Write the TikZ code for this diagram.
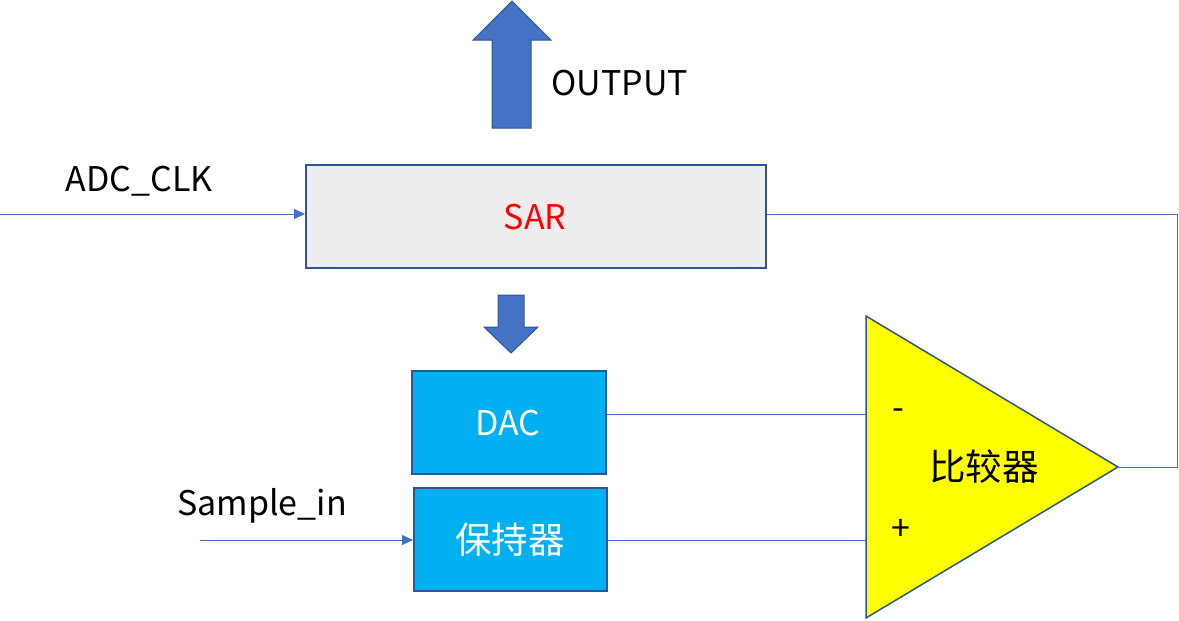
\documentclass[tikz,border=0pt]{standalone}
\usepackage{fontspec}
\setmainfont{Noto Sans CJK SC}
\usetikzlibrary{arrows.meta}
\definecolor{bord}{HTML}{2F5597}
\definecolor{wire}{HTML}{4472C4}
\definecolor{sarfill}{HTML}{EDEDED}
\definecolor{dacfill}{HTML}{00B0F0}
\definecolor{yel}{HTML}{FFFF00}
\tikzset{
  blk/.style={draw=bord, line width=1.5pt, inner sep=0pt, anchor=north west},
  wireln/.style={draw=wire, line width=0.9pt},
  wirearr/.style={wireln, -{Triangle[length=11pt,width=10pt]}},
  fatarrow/.style={fill=wire, draw=bord, line width=1pt},
  lbl/.style={font=\fontsize{34}{40}\selectfont, inner sep=0pt},
  cjk/.style={font=\fontsize{36.5}{42}\selectfont, inner sep=0pt},
}
\begin{document}
\begin{tikzpicture}[x=1pt,y=-1pt]
\useasboundingbox (0,0) rectangle (1179,621);
% boxes
\node[blk, fill=sarfill, minimum width=460pt, minimum height=103pt] (sar) at (305,164) {};
\node[lbl, text=red] (sart) at (535,217) {SAR};
\node[blk, fill=dacfill, minimum width=194pt, minimum height=103pt] (dac) at (411,370) {};
\node[lbl, text=white] (dact) at (508,423) {DAC};
\node[blk, fill=dacfill, minimum width=193pt, minimum height=103pt] (hold) at (413,487) {};
\node[cjk, text=white] (holdt) at (510,540) {保持器};
% comparator
\coordinate (ctop) at (866,316);
\coordinate (cbot) at (866,618);
\coordinate (ctip) at (1118,467);
\filldraw[fill=yel, draw=bord, line width=1.5pt] (ctop) -- (ctip) -- (cbot) -- cycle;
\node[cjk] (cmpt) at (984,467) {比较器};
\node[lbl] (minus) at (898,414) {-};
\node[lbl] (plus) at (901,530) {+};
\coordinate (inm) at (866,414);
\coordinate (inp) at (866,540);
\coordinate (fbr) at (1177,467);
\coordinate (fbt) at (1177,214);
% labels
\node[lbl] (out) at (620,83) {OUTPUT};
\node[lbl] (clk) at (139,181) {ADC\_CLK};
\node[lbl] (smp) at (262,506) {Sample\_in};
\coordinate (clkin) at (0,214);
\coordinate (smpin) at (200,540);
% fat arrows
\filldraw[fatarrow] (492,128) -- (492,40) -- (473,40) -- (512,1) -- (551,40) -- (531,40) -- (531,128) -- cycle;
\filldraw[fatarrow] (498,295) -- (524,295) -- (524,327) -- (538,327) -- (511,353) -- (484,327) -- (498,327) -- cycle;
% wires
\draw[wirearr] (clkin) -- (sar.west |- clkin);
\draw[wirearr] (smpin) -- (hold.west |- smpin);
\draw[wireln] (dac.east |- inm) -- (inm);
\draw[wireln] (hold.east |- inp) -- (inp);
\draw[wireln] (ctip) -- (fbr) -- (fbt) -- (sar.east |- fbt);
\end{tikzpicture}
\end{document}
